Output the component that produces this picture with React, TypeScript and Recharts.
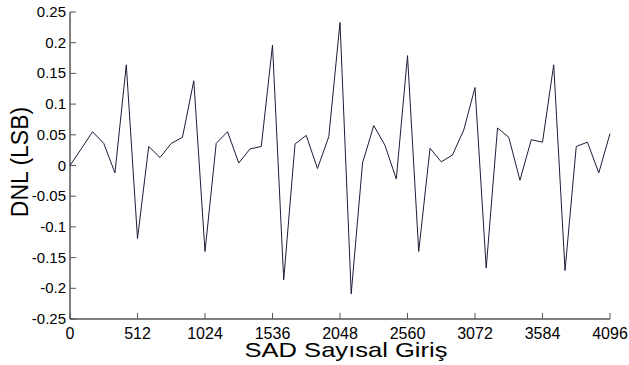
import { LineChart, Line, XAxis, YAxis, Label } from 'recharts';

// SAD input codes (49 samples across the 12-bit range)
const codes = [
  0, 85, 171, 256, 341, 427, 512, 597, 683, 768, 853, 939, 1024, 1109, 1195, 1280, 1365,
  1451, 1536, 1621, 1707, 1792, 1877, 1963, 2048, 2133, 2219, 2304, 2389, 2475, 2560,
  2645, 2731, 2816, 2901, 2987, 3072, 3157, 3243, 3328, 3413, 3499, 3584, 3669, 3755,
  3840, 3925, 4011, 4096,
];

// DNL in LSB
const dnl = [
  0, 0.027, 0.055, 0.036, -0.012, 0.164, -0.119, 0.031, 0.013, 0.036, 0.046, 0.138,
  -0.14, 0.036, 0.055, 0.004, 0.027, 0.031, 0.196, -0.186, 0.035, 0.049, -0.005, 0.047,
  0.233, -0.209, 0.004, 0.065, 0.033, -0.022, 0.179, -0.14, 0.028, 0.006, 0.017, 0.058,
  0.127, -0.167, 0.061, 0.046, -0.024, 0.042, 0.038, 0.164, -0.171, 0.031, 0.038,
  -0.012, 0.052,
];

const xTicks = [0, 512, 1024, 1536, 2048, 2560, 3072, 3584, 4096];
const yTicks = [-0.25, -0.2, -0.15, -0.1, -0.05, 0, 0.05, 0.1, 0.15, 0.2, 0.25];

const data = codes.map((c, i) => ({ code: c, dnl: dnl[i] }));

const FONT = '"Liberation Sans", Arial, sans-serif';
const TICK = '#555';

const BottomTick = ({ x, y, payload }: any) => (
  <g>
    <line x1={x} y1={y} x2={x} y2={y - 6} stroke={TICK} />
    <text x={x} y={y + 20} textAnchor="middle" fontSize={16} fontFamily={FONT} fill="#000">
      {payload.value}
    </text>
  </g>
);

const TopTick = ({ x, y }: any) => <line x1={x} y1={y} x2={x} y2={y + 6} stroke={TICK} />;

const LeftTick = ({ x, y, payload }: any) => (
  <g>
    <line x1={x} y1={y} x2={x + 6} y2={y} stroke={TICK} />
    <text x={x - 4} y={y + 5} textAnchor="end" fontSize={15} fontFamily={FONT} fill="#000">
      {String(payload.value)}
    </text>
  </g>
);

const RightTick = ({ x, y }: any) => <line x1={x} y1={y} x2={x - 6} y2={y} stroke={TICK} />;

export default function App() {
  return (
    <div style={{ position: 'absolute', left: 0, top: 0, background: '#fff' }}>
      <LineChart
        width={629}
        height={365}
        data={data}
        margin={{ top: 12, right: 19, bottom: 0, left: 0 }}
      >
        <XAxis
          dataKey="code"
          type="number"
          domain={[0, 4096]}
          ticks={xTicks}
          interval={0}
          height={46}
          tickSize={0}
          tickMargin={0}
          tickLine={false}
          tick={<BottomTick />}
          axisLine={{ stroke: '#000' }}
        >
          <Label
            content={() => (
              <text
                x={346}
                y={357}
                textAnchor="middle"
                fontSize={21}
                fontFamily={FONT}
                fill="#000"
                textLength={203}
                lengthAdjust="spacingAndGlyphs"
              >
                SAD Sayısal Giriş
              </text>
            )}
          />
        </XAxis>
        <XAxis
          xAxisId="top"
          orientation="top"
          dataKey="code"
          type="number"
          domain={[0, 4096]}
          ticks={xTicks}
          interval={0}
          height={0}
          tickSize={0}
          tickMargin={0}
          tickLine={false}
          tick={<TopTick />}
          axisLine={{ stroke: '#000' }}
        />
        <YAxis
          type="number"
          domain={[-0.25, 0.25]}
          ticks={yTicks}
          interval={0}
          width={70}
          tickSize={0}
          tickMargin={0}
          tickLine={false}
          tick={<LeftTick />}
          axisLine={{ stroke: '#000' }}
        >
          <Label
            content={() => (
              <text
                x={28}
                y={162}
                transform="rotate(-90 28 162)"
                textAnchor="middle"
                fontSize={23}
                fontFamily={FONT}
                fill="#000"
              >
                DNL (LSB)
              </text>
            )}
          />
        </YAxis>
        <YAxis
          yAxisId="r"
          orientation="right"
          type="number"
          domain={[-0.25, 0.25]}
          ticks={yTicks}
          interval={0}
          width={0}
          tickSize={0}
          tickMargin={0}
          tickLine={false}
          tick={<RightTick />}
          axisLine={{ stroke: '#000' }}
        />
        <Line
          type="linear"
          dataKey="dnl"
          stroke="#1c1c3a"
          strokeWidth={1}
          dot={false}
          isAnimationActive={false}
        />
      </LineChart>
    </div>
  );
}
